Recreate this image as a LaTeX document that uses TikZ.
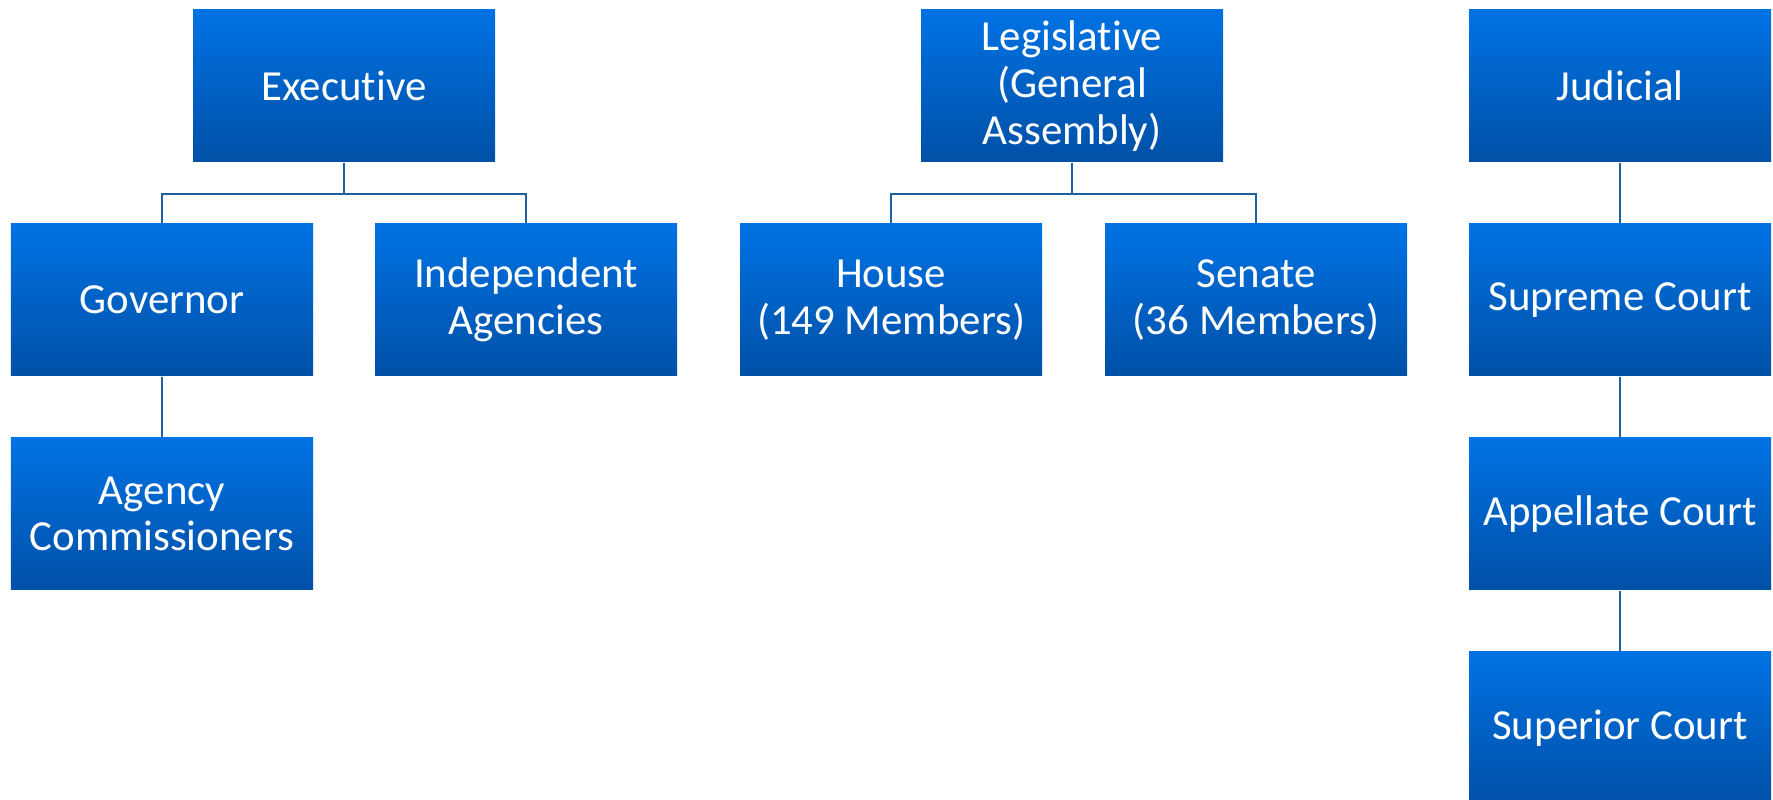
\documentclass[tikz,border=0pt]{standalone}
\usepackage{fontspec}
\setmainfont[Ligatures=NoCommon,RawFeature={-liga;-clig;-calt}]{Carlito}
\usepackage{tikz}
\usetikzlibrary{positioning}
\definecolor{boxtop}{RGB}{0,114,227}
\definecolor{boxbot}{RGB}{0,80,166}
\definecolor{linkblue}{RGB}{31,96,160}

\begin{document}
\begin{tikzpicture}[
  font=\fontsize{12.2}{13.3}\selectfont,
  box/.style = {rectangle, minimum width=3.02cm, minimum height=1.52cm, inner sep=0pt,
    align=center, text=white, top color=boxtop, bottom color=boxbot},
  link/.style = {draw=linkblue, line width=0.6pt}
  ]
	\useasboundingbox (0,0) rectangle (17.73,8);

	% top row
	\node[box] (exec) at (3.44,7.14) {Executive};
	\node[box] (legis) at (10.72,7.14) {Legislative\\(General\\Assembly)};
	\node[box] (jud) at (16.20,7.14) {Judicial};

	% second row
	\node[box] (gov) at (1.62,5.00) {Governor};
	\node[box] (indep) at (5.26,5.00) {Independent\\Agencies};
	\node[box] (house) at (8.91,5.00) {House\\(149 Members)};
	\node[box] (senate) at (12.56,5.00) {Senate\\(36 Members)};
	\node[box] (supreme) at (16.20,5.00) {Supreme Court};

	% lower rows
	\node[box] (commish) at (1.62,2.86) {Agency\\Commissioners};
	\node[box] (appell) at (16.20,2.86) {Appellate Court};
	\node[box] (superior) at (16.20,0.72) {Superior Court};

	\coordinate (exec-bus) at ([yshift=-3.1mm]exec.south);
	\coordinate (legis-bus) at ([yshift=-3.1mm]legis.south);

	\draw[link] (exec) -- (exec-bus) -| (gov);
	\draw[link] (exec-bus) -| (indep);
	\draw[link] (legis) -- (legis-bus) -| (house);
	\draw[link] (legis-bus) -| (senate);
	\draw[link] (gov) -- (commish);
	\draw[link] (jud) -- (supreme);
	\draw[link] (supreme) -- (appell);
	\draw[link] (appell) -- (superior);

\end{tikzpicture}
\end{document}
